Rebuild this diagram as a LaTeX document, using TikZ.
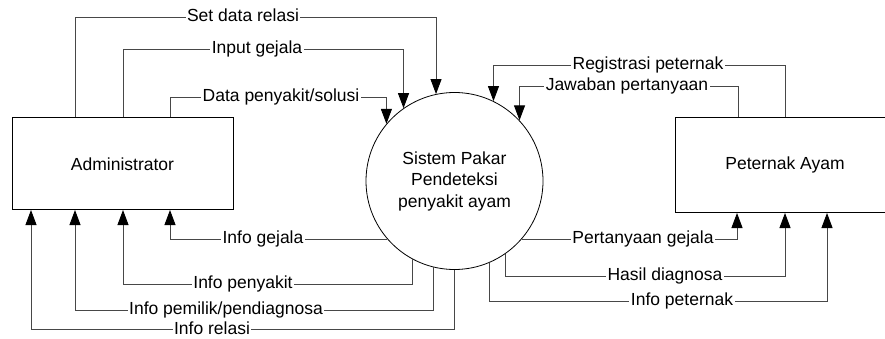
\documentclass[tikz,border=0pt]{standalone}
\usepackage{fontspec}
\setmainfont{Liberation Sans}
\usetikzlibrary{arrows.meta}
\tikzset{
  flow/.style={draw=black!72, line width=0.9pt, -{Triangle[length=15pt,width=11pt,color=black]}},
  lab/.style={fill=white, inner sep=1.5pt, text height=12.5pt, text depth=3.5pt, font=\fontsize{17.5}{21.5}\selectfont},
  entity/.style={draw=black, line width=1pt, rectangle, inner sep=0pt, font=\fontsize{17.5}{21.5}\selectfont},
  proc/.style={draw=black, line width=0.8pt, circle, minimum size=177pt, inner sep=0pt, align=center, font=\fontsize{17.5}{21.5}\selectfont}
}
\begin{document}
\begin{tikzpicture}[x=1pt,y=-1pt]
\useasboundingbox (0,0) rectangle (885,339);
\node[entity, minimum width=221pt, minimum height=91.5pt] (admin) at (122.5,163.75) {Administrator};
\node[entity, minimum width=220pt, minimum height=94.5pt] (pet) at (785,165.25) {Peternak Ayam};
\node[proc] (sys) at (454.5,181) {Sistem Pakar\\Pendeteksi\\penyakit ayam};
% Admin -> system
\draw[flow] (75,0 |- admin.north) |- (sys.102.7 |- 0,17) -- (sys.102.7);
\draw[flow] (123,0 |- admin.north) |- (sys.125.6 |- 0,49) -- (sys.125.6);
\draw[flow] (170,0 |- admin.north) |- (sys.140.7 |- 0,97) -- (sys.140.7);
% system -> admin
\draw[flow] (sys.221) -| (170,0 |- admin.south);
\draw[flow] (sys.242) -- (sys.242 |- 0,284) -| (123,0 |- admin.south);
\draw[flow] (sys.256.6) -- (sys.256.6 |- 0,310) -| (75,0 |- admin.south);
\draw[flow] (sys.270) -- (sys.270 |- 0,329.5) -| (31,0 |- admin.south);
% peternak -> system
\draw[flow] (785,0 |- pet.north) |- (sys.64.2 |- 0,65) -- (sys.64.2);
\draw[flow] (738,0 |- pet.north) |- (sys.43.2 |- 0,86) -- (sys.43.2);
% system -> peternak
\draw[flow] (sys.319) -| (737,0 |- pet.south);
\draw[flow] (sys.305.6) -- (sys.305.6 |- 0,276) -| (785,0 |- pet.south);
\draw[flow] (sys.293.7) -- (sys.293.7 |- 0,301) -| (827,0 |- pet.south);
% labels
\node[lab] (l1) at (243,17) {Set data relasi};
\node[lab] (l2) at (257,49) {Input gejala};
\node[lab] (l3) at (281,97) {Data penyakit/solusi};
\node[lab] (l4) at (263,239) {Info gejala};
\node[lab] (l5) at (243,284) {Info penyakit};
\node[lab] (l6) at (226,310) {Info pemilik/pendiagnosa};
\node[lab] (l7) at (212,329.5) {Info relasi};
\node[lab] (l8) at (648,65) {Registrasi peternak};
\node[lab] (l9) at (627,86) {Jawaban pertanyaan};
\node[lab] (l10) at (643,239) {Pertanyaan gejala};
\node[lab] (l11) at (665,276) {Hasil diagnosa};
\node[lab] (l12) at (682,301) {Info peternak};
\end{tikzpicture}
\end{document}
